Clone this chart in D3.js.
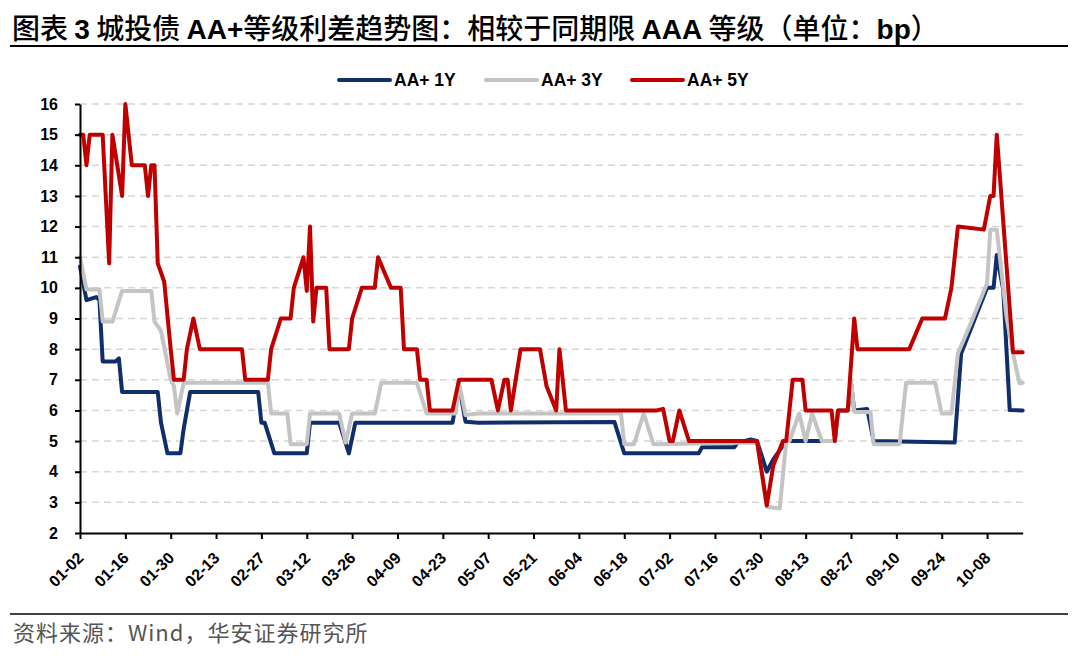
<!DOCTYPE html>
<html>
<head>
<meta charset="utf-8">
<script src="https://cdn.jsdelivr.net/npm/d3@7"></script>
<style>
body { margin: 0; background: #fff; }
</style>
</head>
<body>
<div id="chart"></div>
<script>

// x axis tick labels (every 14 days)
var tickLabels = ["01-02","01-16","01-30","02-13","02-27","03-12","03-26","04-09","04-23","05-07",
	"05-21","06-04","06-18","07-02","07-16","07-30","08-13","08-27","09-10","09-24","10-08"];
var yTicks = [2,3,4,5,6,7,8,9,10,11,12,13,14,15,16];

var seriesNames = ["AA+ 1Y", "AA+ 3Y", "AA+ 5Y"];

// [date, spread bp]
var series1Y = [["01-02",10.7],["01-04",9.6],["01-07",9.7],["01-08",9.6],["01-09",7.6],["01-13",7.6],
	["01-14",7.7],["01-15",6.6],["01-26",6.6],["01-27",5.6],["01-29",4.6],["02-02",4.6],["02-03",5.4],
	["02-05",6.6],["02-26",6.6],["02-27",5.6],["02-28",5.6],["03-02",4.6],["03-12",4.6],["03-13",5.6],
	["03-22",5.6],["03-25",4.6],["03-27",5.6],["04-26",5.6],["04-28",6.83],["04-30",5.63],["05-04",5.6],
	["06-15",5.62],["06-18",4.6],["07-11",4.6],["07-12",4.8],["07-22",4.8],["07-23",4.95],["07-27",5.05],
	["07-29",5],["08-01",4.0],["08-03",4.4],["08-07",5],["08-22",5],["08-23",6],["08-26",6],["08-27",6.9],
	["08-28",6],["09-01",6.05],["09-03",5],["09-28",4.95],["09-30",7.86],["10-08",10],["10-10",10],
	["10-11",11.07],["10-13",9.93],["10-15",6.01],["10-19",6]];

var series3Y = [["01-02",11],["01-04",9.95],["01-08",9.95],["01-09",8.9],["01-12",8.9],["01-15",9.9],
	["01-24",9.9],["01-25",8.9],["01-27",8.6],["01-30",7],["01-31",6.8],["02-01",5.9],["02-03",6.9],
	["02-29",6.9],["03-01",5.9],["03-06",5.9],["03-07",4.9],["03-12",4.9],["03-13",5.9],["03-22",5.9],
	["03-24",4.95],["03-26",5.9],["04-02",5.9],["04-04",6.9],["04-15",6.9],["04-18",5.9],["04-27",5.9],
	["04-28",6.9],["04-30",5.85],["05-04",5.9],["06-17",5.9],["06-18",4.9],["06-21",4.9],["06-24",5.9],
	["06-27",4.9],["07-29",4.95],["08-01",2.86],["08-05",2.8],["08-07",5],["08-08",5],["08-11",5.9],
	["08-13",5],["08-15",5.9],["08-18",5],["08-22",5],["08-23",6],["08-26",6],["08-27",7],["08-28",5.95],
	["09-02",5.95],["09-03",4.9],["09-11",4.9],["09-13",6.9],["09-22",6.9],["09-24",5.9],["09-27",5.9],
	["09-29",7.86],["10-03",8.85],["10-08",10.15],["10-09",11.9],["10-11",11.9],["10-14",9.06],
	["10-16",7.86],["10-18",6.89],["10-19",6.9]];

var series5Y = [["01-02",15],["01-03",15],["01-04",14],["01-05",15],["01-09",15],["01-11",10.8],
	["01-12",15],["01-15",13],["01-16",16],["01-18",14],["01-22",14],["01-23",13],["01-24",14],["01-25",14],
	["01-26",10.8],["01-28",10.2],["01-30",8],["01-31",7],["02-03",7],["02-04",8],["02-06",9],["02-08",8],
	["02-21",8],["02-22",7],["02-29",7],["03-01",8],["03-04",9],["03-07",9],["03-08",10],["03-11",11],
	["03-12",9.9],["03-13",12],["03-14",8.9],["03-15",10],["03-18",10],["03-19",8],["03-25",8],["03-26",9],
	["03-29",10],["04-02",10],["04-03",11],["04-07",10],["04-10",10],["04-11",8],["04-15",8],["04-16",7],
	["04-18",7],["04-19",6],["04-26",6],["04-28",7],["05-08",7],["05-10",6],["05-12",7],["05-13",7],
	["05-14",6],["05-17",8],["05-23",8],["05-25",6.8],["05-28",6],["05-29",8],["05-31",6],["06-28",6],
	["06-30",6.05],["07-02",5],["07-03",5],["07-05",6],["07-08",5],["07-29",5],["08-01",2.9],["08-03",4.2],
	["08-06",5],["08-07",5],["08-09",7],["08-12",7],["08-13",6],["08-21",6],["08-22",5],["08-23",6],
	["08-26",6],["08-28",9],["08-29",8],["09-14",8],["09-18",9],["09-25",9],["09-27",10],["09-29",12],
	["10-07",11.9],["10-09",13],["10-10",13],["10-11",15],["10-16",7.9],["10-19",7.9]];

var colors = ["#112e6c", "#c4c4c4", "#c00000"];

var parseDay = d3.timeParse("%Y-%m-%d");
function toDate(md) { return parseDay("2024-" + md); }

var svg = d3.select("#chart")
	.append("svg")
		.attr("width", 1080)
		.attr("height", 656)
		.style("background-color", "#fff");

var x = d3.scaleTime()
	.domain([toDate("01-02"), toDate("10-19")])
	.range([80, 1022.7]);

var y = d3.scaleLinear()
	.domain([2, 16])
	.range([533, 104]);

// title
var title = svg.append("text")
	.attr("x", 12)
	.attr("y", 39)
	.attr("font-size", "28px")
	.attr("fill", "#000");
var titleParts = [["图表 ", 0], ["3", 1], [" 城投债 ", 0], ["AA+", 1], ["等级利差趋势图：相较于同期限 ", 0],
	["AAA", 1], [" 等级（单位：", 0], ["bp", 1], ["）", 0]];
titleParts.forEach(function(p) {
	title.append("tspan")
		.attr("font-family", p[1] ? "Liberation Sans, Arial, sans-serif" : "Noto Sans CJK SC, sans-serif")
		.attr("font-weight", p[1] ? "bold" : "500")
		.text(p[0]);
});

svg.append("line")
	.attr("x1", 10).attr("x2", 1068)
	.attr("y1", 46).attr("y2", 46)
	.attr("stroke", "#000").attr("stroke-width", 2);

// grid
svg.append("g")
	.selectAll("line")
	.data(yTicks.filter(function(v) { return v > 2; }))
	.enter().append("line")
		.attr("x1", x.range()[0])
		.attr("x2", x.range()[1])
		.attr("y1", function(d) { return y(d); })
		.attr("y2", function(d) { return y(d); })
		.attr("stroke", "#d6d6d6")
		.attr("stroke-width", 1.5)
		.attr("stroke-dasharray", "7,5");

// lines
var line = d3.line()
	.x(function(d) { return x(toDate(d[0])); })
	.y(function(d) { return y(d[1]); });

[series1Y, series3Y, series5Y].forEach(function(s, i) {
	svg.append("path")
		.datum(s)
		.attr("d", line)
		.attr("fill", "none")
		.attr("stroke", colors[i])
		.attr("stroke-width", 4)
		.attr("stroke-linejoin", "round")
		.attr("stroke-linecap", "round");
});

// axes
var xAxis = d3.axisBottom(x)
	.tickValues(tickLabels.map(toDate))
	.tickFormat(d3.timeFormat("%m-%d"))
	.tickSizeInner(6)
	.tickSizeOuter(0);

var xg = svg.append("g")
	.attr("transform", "translate(0,533)")
	.call(xAxis);
xg.select(".domain").attr("stroke", "#000").attr("stroke-width", 2);
xg.selectAll(".tick line").attr("stroke", "#000").attr("stroke-width", 2);
xg.selectAll(".tick text")
	.attr("font-family", "Liberation Sans, Arial, sans-serif")
	.attr("font-size", "16px")
	.attr("font-weight", "bold")
	.attr("fill", "#000")
	.attr("text-anchor", "end")
	.attr("x", 0).attr("y", 0).attr("dy", "0.35em")
	.attr("transform", "translate(0,22) rotate(-45)");

var yAxis = d3.axisLeft(y)
	.tickValues(yTicks)
	.tickSizeInner(5)
	.tickSizeOuter(0)
	.tickPadding(17);

var yg = svg.append("g")
	.attr("transform", "translate(80,0)")
	.call(yAxis);
yg.select(".domain").attr("stroke", "#000").attr("stroke-width", 2);
yg.selectAll(".tick line").attr("stroke", "#000").attr("stroke-width", 2);
yg.selectAll(".tick text")
	.attr("font-family", "Liberation Sans, Arial, sans-serif")
	.attr("font-size", "16px")
	.attr("font-weight", "bold")
	.attr("fill", "#000");

// legend
var legendX = [339, 486, 632];
seriesNames.forEach(function(name, i) {
	var lg = svg.append("g").attr("transform", "translate(" + legendX[i] + ",80)");
	lg.append("line")
		.attr("x1", 0).attr("x2", 51)
		.attr("y1", 0).attr("y2", 0)
		.attr("stroke", colors[i])
		.attr("stroke-width", 4)
		.attr("stroke-linecap", "round");
	lg.append("text")
		.attr("x", 55)
		.attr("y", 6)
		.attr("font-family", "Liberation Sans, Arial, sans-serif")
		.attr("font-size", "17.5px")
		.attr("font-weight", "bold")
		.attr("fill", "#000")
		.text(name);
});

// source
svg.append("line")
	.attr("x1", 10).attr("x2", 1068)
	.attr("y1", 614).attr("y2", 614)
	.attr("stroke", "#000").attr("stroke-width", 1.5);

svg.append("text")
	.attr("x", 13)
	.attr("y", 641)
	.attr("font-family", "Noto Sans CJK SC, sans-serif")
	.attr("font-size", "22px")
	.attr("letter-spacing", "1px")
	.attr("fill", "#555")
	.text("资料来源：Wind，华安证券研究所");

</script>
</body>
</html>
